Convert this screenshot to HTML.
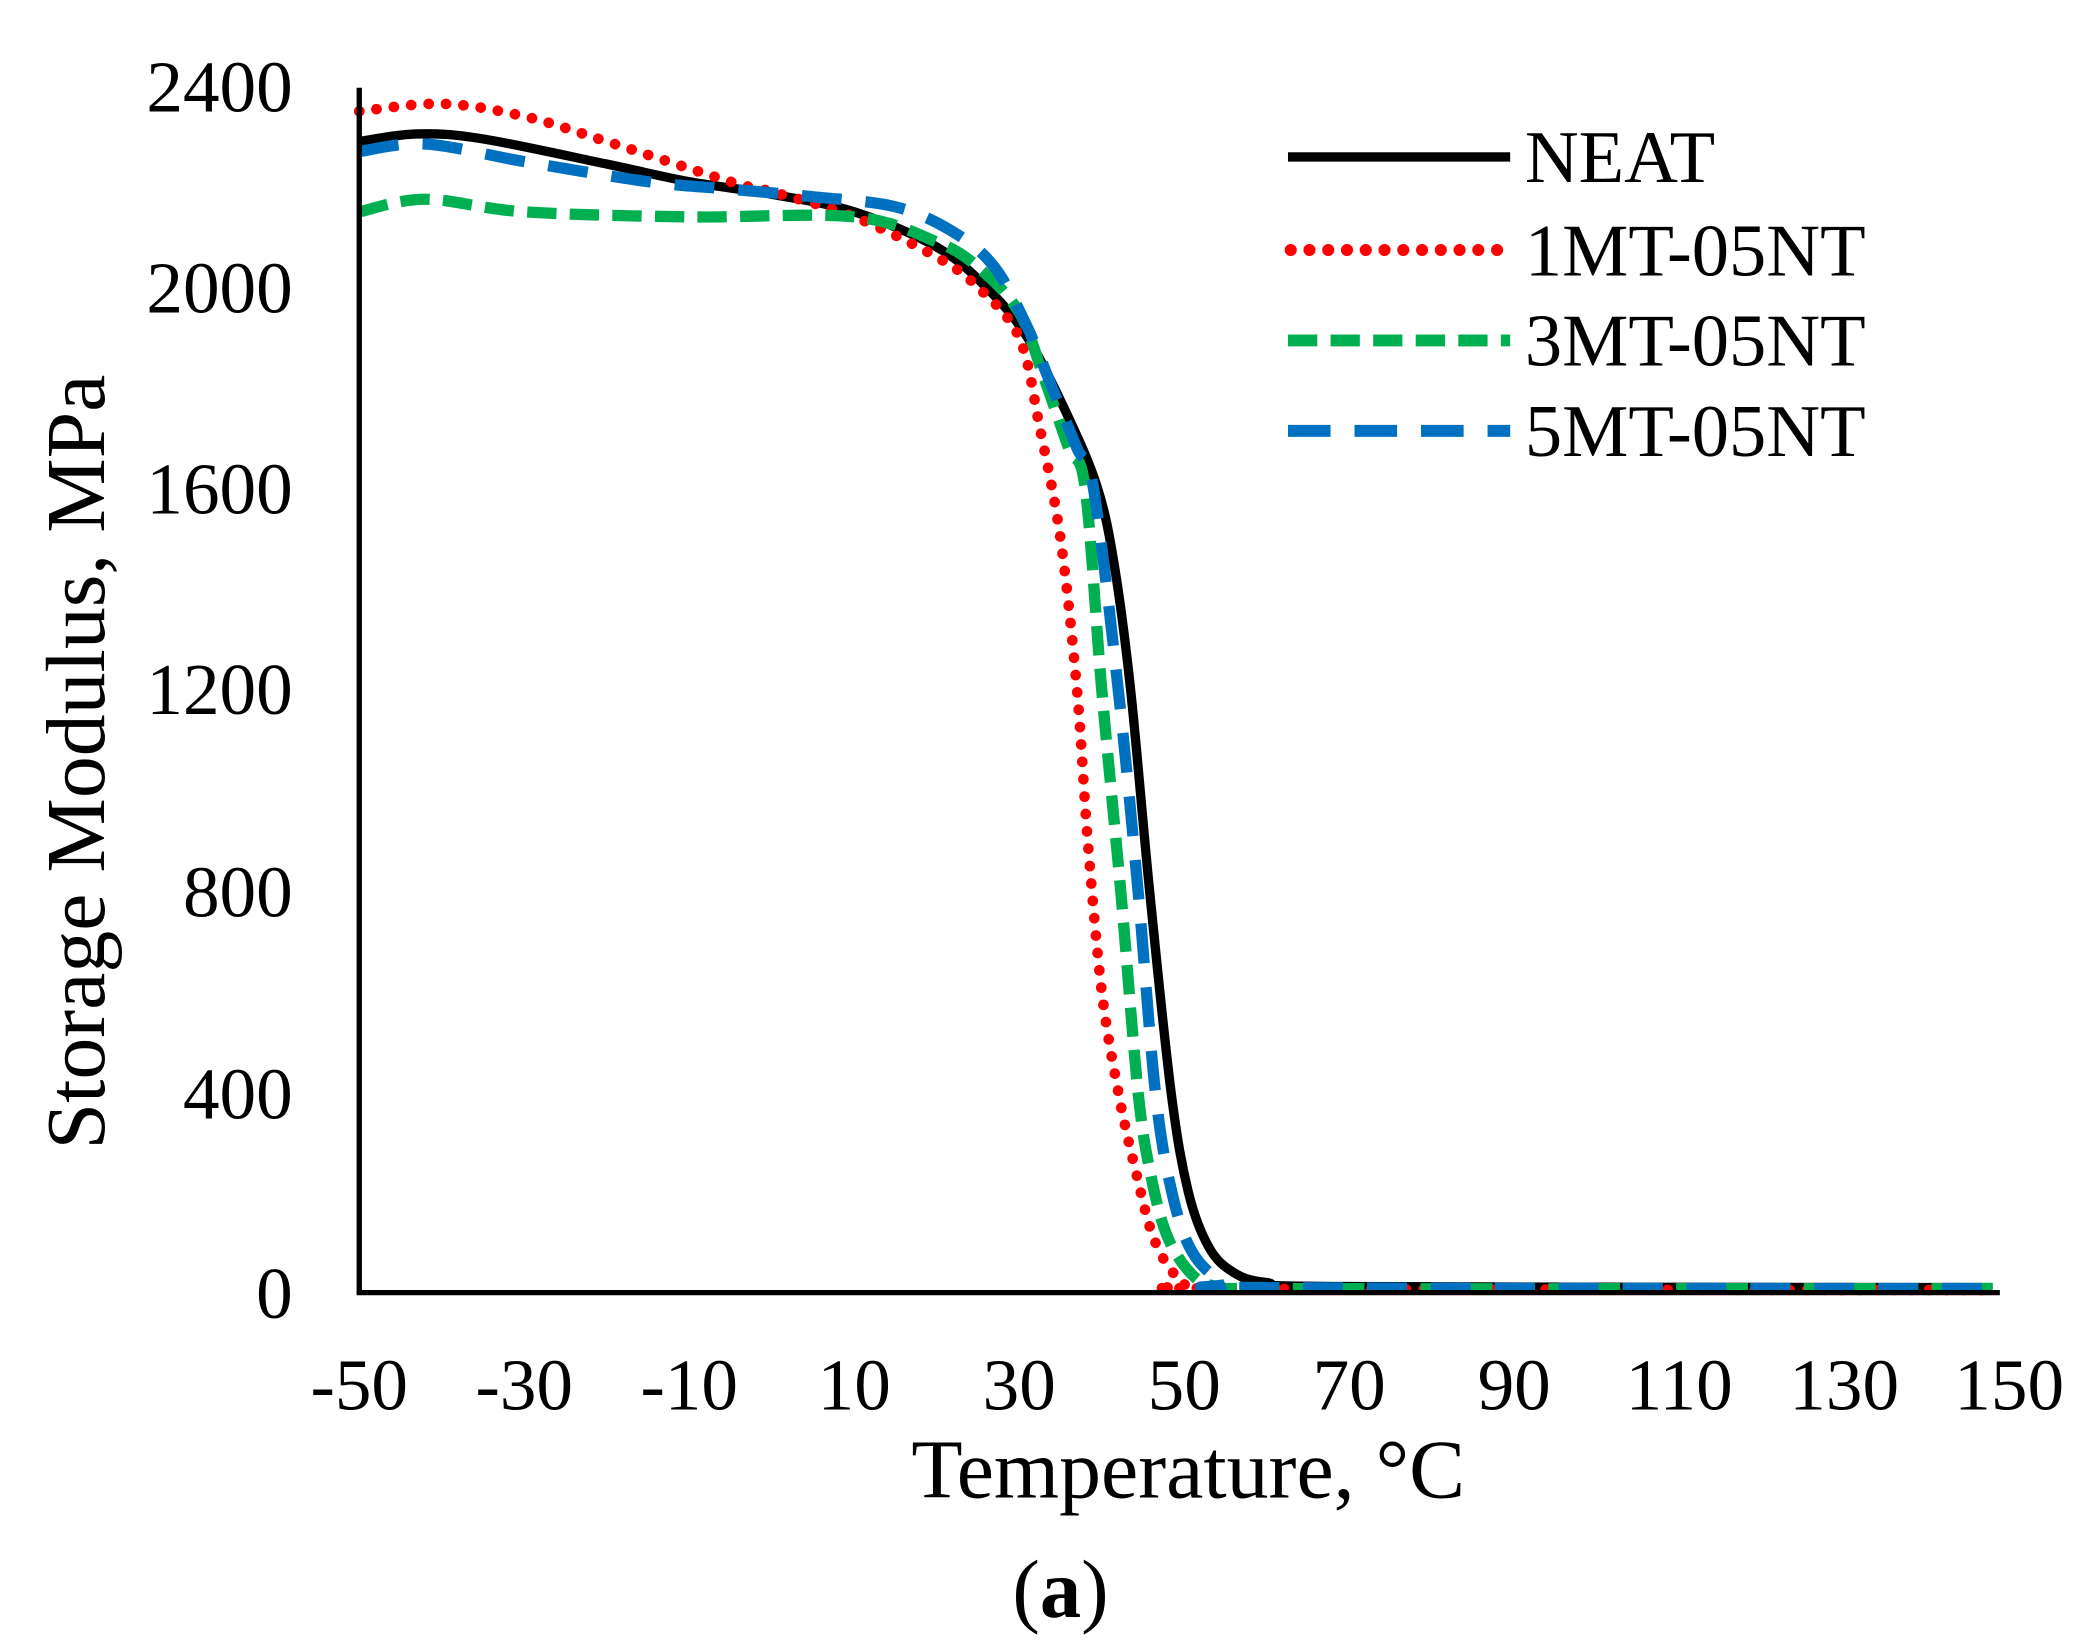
<!DOCTYPE html>
<html><head><meta charset="utf-8"><style>
html,body{margin:0;padding:0;background:#fff}
svg{display:block}
text{font-family:"Liberation Serif",serif;fill:#000}
</style></head><body>
<svg id="s" width="2081" height="1649" viewBox="0 0 1564 1240" preserveAspectRatio="none" xmlns="http://www.w3.org/2000/svg">
<g font-size="55" text-anchor="end">
<text x="220" y="84">2400</text><text x="220" y="235">2000</text><text x="220" y="386">1600</text>
<text x="220" y="537">1200</text><text x="220" y="689">800</text><text x="220" y="841">400</text><text x="220" y="991">0</text>
</g>
<g font-size="55" text-anchor="middle">
<text x="270" y="1060">-50</text><text x="394" y="1060">-30</text><text x="518" y="1060">-10</text><text x="642" y="1060">10</text>
<text x="766" y="1060">30</text><text x="890" y="1060">50</text><text x="1014" y="1060">70</text><text x="1138" y="1060">90</text>
<text x="1262" y="1060">110</text><text x="1386" y="1060">130</text><text x="1510" y="1060">150</text>
</g>
<text x="893" y="1126" font-size="63" text-anchor="middle">Temperature, °C</text>
<text transform="translate(78,573) rotate(-90)" font-size="63" text-anchor="middle">Storage Modulus, MPa</text>
<text x="797" y="1216" font-size="62" text-anchor="middle">(<tspan font-weight="bold">a</tspan>)</text>
<g id="curves"></g>
<line x1="270" y1="66" x2="270" y2="973" stroke="#000" stroke-width="4"/>
<line x1="268" y1="972" x2="1503" y2="972" stroke="#000" stroke-width="4"/>
<g font-size="56">
<line x1="968" y1="118" x2="1135" y2="118" stroke="#000" stroke-width="7"/>
<text x="1146" y="137">NEAT</text>
<line x1="970" y1="188" x2="1135" y2="188" stroke="#f00" stroke-width="9" stroke-linecap="round" stroke-dasharray="0.1 14"/>
<text x="1146" y="207">1MT-05NT</text>
<line x1="968" y1="256" x2="1135" y2="256" stroke="#00b050" stroke-width="9" stroke-dasharray="22 10"/>
<text x="1146" y="275">3MT-05NT</text>
<line x1="968" y1="324" x2="1135" y2="324" stroke="#0070c0" stroke-width="9" stroke-dasharray="32 18"/>
<text x="1146" y="343">5MT-05NT</text>
</g>
</svg>
<script>
function X(t){return 270+(t+50)*6.2}
function Y(v){return 972-v*0.378}
function path(pts){
 var p=pts.map(function(a){return [X(a[0]),Y(a[1])]});
 var d="M"+p[0][0]+","+p[0][1];
 for(var i=0;i<p.length-1;i++){
  var p0=p[i-1]||p[i],p1=p[i],p2=p[i+1],p3=p[i+2]||p2;
  var c1=[p1[0]+(p2[0]-p0[0])/6,p1[1]+(p2[1]-p0[1])/6];
  var c2=[p2[0]-(p3[0]-p1[0])/6,p2[1]-(p3[1]-p1[1])/6];
  d+=" C"+c1+" "+c2+" "+p2;
 }
 return d;
}
var S={
 neat:[[-50,2290],[-43,2305],[-35,2295],[-20,2245],[-10,2210],[0,2185],[10,2150],[20,2080],[26,2000],[31,1900],[36,1740],[39.5,1600],[41.5,1450],[43.5,1200],[45.8,800],[48.4,400],[50.5,200],[53,90],[56,40],[60,20],[70,12],[148,10]],
 red:[[-50,2350],[-40,2365],[-30,2340],[-20,2290],[-5,2210],[0,2190],[10,2140],[20,2060],[25,2000],[30,1900],[32.5,1720],[35,1500],[37,1200],[38.3,900],[40,600],[42,400],[44,250],[46.5,100],[50,20],[55,8],[148,5]],
 green:[[-50,2150],[-42,2175],[-30,2150],[-10,2140],[10,2140],[20,2090],[25,2040],[30,1950],[33,1820],[36,1680],[38,1600],[40,1200],[42.3,800],[44.4,400],[46,230],[48,110],[51,35],[54,12],[60,8],[148,8]],
 blue:[[-50,2270],[-42,2285],[-30,2250],[-15,2210],[-5,2195],[5,2180],[15,2160],[22,2110],[27,2040],[31,1920],[34,1800],[37,1680],[39,1600],[42,1200],[44.4,800],[46.5,400],[48.5,200],[51,80],[55,20],[60,10],[148,8]]
};
var st={
 neat:'stroke="#000" stroke-width="7"',
 red:'stroke="#f00" stroke-width="8" stroke-linecap="round" stroke-dasharray="0.1 13"',
 green:'stroke="#00b050" stroke-width="8.5" stroke-dasharray="22 10"',
 blue:'stroke="#0070c0" stroke-width="8.5" stroke-dasharray="30 18"'
};
var h="";
["neat","red","green","blue"].forEach(function(k){h+='<path fill="none" '+st[k]+' d="'+path(S[k])+'"/>';});
document.getElementById("curves").innerHTML=h;
</script>
</body></html>
